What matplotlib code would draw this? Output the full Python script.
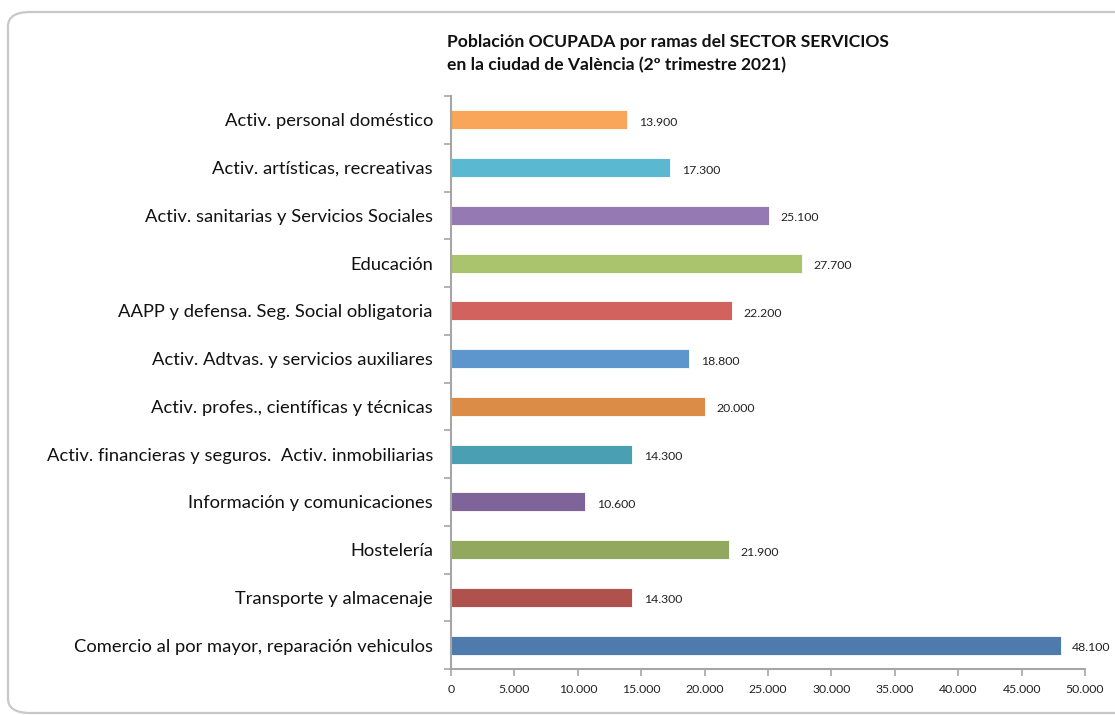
import matplotlib
matplotlib.use("Agg")
import matplotlib.pyplot as plt
from matplotlib.patches import FancyBboxPatch
from matplotlib.ticker import FuncFormatter, MultipleLocator

# DATA (bottom to top)
ramas = [
    "Comercio al por mayor, reparación vehiculos",
    "Transporte y almacenaje",
    "Hostelería",
    "Información y comunicaciones",
    "Activ. financieras y seguros.  Activ. inmobiliarias",
    "Activ. profes., científicas y técnicas",
    "Activ. Adtvas. y servicios auxiliares",
    "AAPP y defensa. Seg. Social obligatoria",
    "Educación",
    "Activ. sanitarias y Servicios Sociales",
    "Activ. artísticas, recreativas",
    "Activ. personal doméstico",
]
ocupados = [48100, 14300, 21900, 10600, 14300, 20000, 18800, 22200, 27700, 25100, 17300, 13900]
colores = ["#4E7BAC", "#AF524D", "#91A95E", "#7E6498", "#4A9FB3", "#DB8C47",
           "#5D95CD", "#D1625E", "#A9C46C", "#9479B2", "#5BB8D1", "#F9A65A"]

titulo = "Población OCUPADA por ramas del SECTOR SERVICIOS\nen la ciudad de València (2º trimestre 2021)"

plt.rcParams["font.family"] = ["Lato", "DejaVu Sans"]


def miles(v, pos=None):
    return f"{int(v):,}".replace(",", ".")


fig = plt.figure(figsize=(11.15, 7.15), dpi=100)

# rounded frame around the chart
frame = FancyBboxPatch((8 / 1115, 2 / 715), 1.2, 701 / 715,
                       boxstyle="round,pad=0,rounding_size=0.02",
                       transform=fig.transFigure, fill=False,
                       edgecolor="#c8c8c8", linewidth=1.6, clip_on=False)
fig.patches.append(frame)

ax = fig.add_axes([451 / 1115, 1 - 669 / 715, (1085 - 451) / 1115, (669 - 96) / 715])

pos = list(range(len(ramas)))
ax.barh(pos, ocupados, height=0.4, color=colores, edgecolor="white", linewidth=0.6)

for y, v in zip(pos, ocupados):
    ax.text(v + 900, y - 0.05, miles(v), va="center", ha="left", fontsize=8.8, color="#222222")

ax.set_xlim(0, 50000)
ax.set_ylim(-0.5, len(ramas) - 0.5)
ax.xaxis.set_major_locator(MultipleLocator(5000))
ax.xaxis.set_major_formatter(FuncFormatter(miles))

ax.set_yticks(pos)
ax.set_yticklabels(ramas, fontsize=13.2, color="#111111")
ax.tick_params(axis="y", length=0, pad=13)
ax.set_yticks([p - 0.5 for p in pos] + [len(ramas) - 0.5], minor=True)
ax.tick_params(axis="y", which="minor", length=5, color="#a6a6a6", width=1.2)
ax.tick_params(axis="x", length=5, color="#a6a6a6", width=1.2, labelsize=8.8,
               labelcolor="#222222", pad=6)

for s in ["top", "right"]:
    ax.spines[s].set_visible(False)
for s in ["left", "bottom"]:
    ax.spines[s].set_color("#a6a6a6")
    ax.spines[s].set_linewidth(1.5)

fig.text(447 / 1115, 1 - 34 / 715, titulo, ha="left", va="top", fontsize=12.6,
         fontweight="bold", color="#111111", linespacing=1.55)

fig.savefig("out.png", dpi=100)
